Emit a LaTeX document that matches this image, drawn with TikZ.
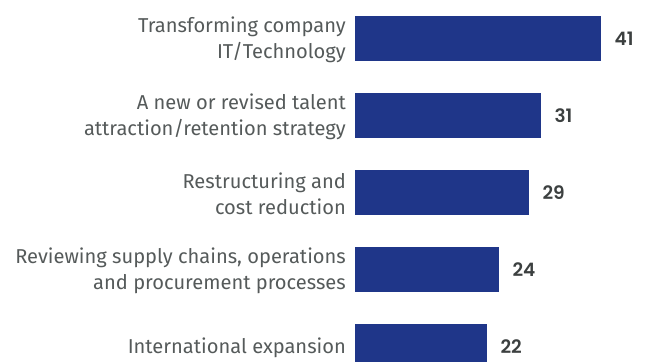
\documentclass[tikz,border=0pt]{standalone}
\usepackage{fontspec}
\setmainfont{Fira Sans}
\newfontfamily\valfont{Poppins SemiBold}
\definecolor{barblue}{RGB}{31,54,137}
\definecolor{labgray}{RGB}{85,90,90}
\definecolor{valgray}{RGB}{60,64,64}
\begin{document}
\begin{tikzpicture}[x=1bp,y=-1bp,
  bar/.style={fill=barblue,draw=none},
  lab/.style={anchor=east,align=right,inner sep=0pt,text=labgray,font=\fontsize{20.1bp}{26bp}\selectfont},
  val/.style={anchor=west,inner sep=0pt,text=valgray,font=\valfont\fontsize{18.5bp}{20bp}\selectfont}]
\useasboundingbox (0,0) rectangle (648,361);
\begin{scope}
\clip (0,0) rectangle (648,361);
\foreach \i/\v/\t in {0/41/{Transforming company\\IT/Technology},
                      1/31/{A new or revised talent\\attraction/retention strategy},
                      2/29/{Restructuring and\\cost reduction},
                      3/24/{Reviewing supply chains, operations\\and procurement processes},
                      4/22/{International expansion}}{
  \pgfmathsetmacro{\top}{16+77*\i}
  \node[bar,minimum width={6*\v*1bp},minimum height=45bp,anchor=north west,inner sep=0pt] (b\i) at (355,\top) {};
  \node[lab] (l\i) at ([xshift=-9bp,yshift=-1.5bp]b\i.west) {\t};
  \node[val] (v\i) at ([xshift=13bp]b\i.east) {\v};
}
\end{scope}
\end{tikzpicture}
\end{document}
